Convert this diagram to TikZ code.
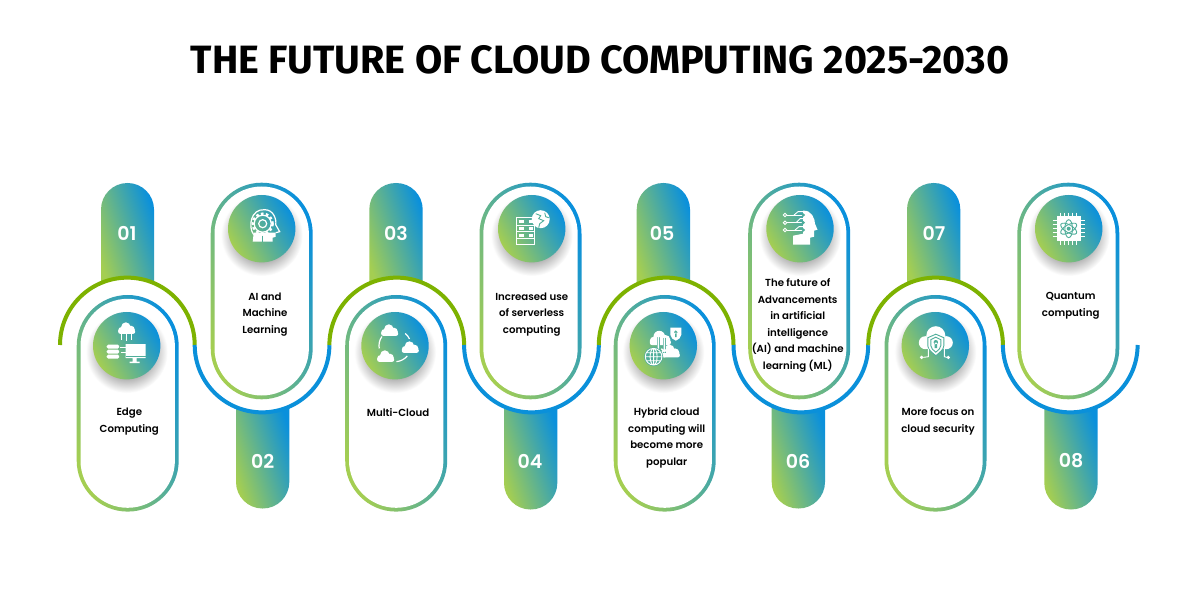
\documentclass[tikz,border=0pt]{standalone}
\usepackage{fontspec}
\setmainfont{Poppins}
\newfontfamily\bodyfont{Poppins SemiBold}
\newfontfamily\titlefont{Fira Sans Bold}
\definecolor{gradblue}{HTML}{0A90DC}
\definecolor{gradgreen}{HTML}{A4CE52}
\definecolor{arcgreen}{HTML}{7DB200}
\definecolor{arcblue}{HTML}{0A90DA}
\definecolor{icontint}{HTML}{4FAE9A}
\tikzset{
	tabshade/.style={shade,top color=gradblue,bottom color=gradgreen,shading angle=-72},
	greenarc/.style={draw=arcgreen,line width=4pt,fill=white},
	bluearc/.style={draw=arcblue,line width=4pt,fill=white},
	pillouter/.style={shape=rectangle,minimum width=102pt,minimum height=216.6pt,inner sep=0pt,rounded corners=51pt,
		shade,top color=gradblue,bottom color=gradgreen,shading angle=-68},
	pillinner/.style={shape=rectangle,fill=white,minimum width=94.4pt,minimum height=209pt,inner sep=0pt,rounded corners=47.2pt},
	ballglow/.style={shape=circle,minimum size=82pt,inner sep=0pt,shade,inner color=black!85,outer color=white},
	iconball/.style={shape=circle,minimum size=67.4pt,inner sep=0pt,shade,top color=gradblue,bottom color=gradgreen,shading angle=-60},
	numtext/.style={font=\bodyfont\fontsize{19}{19}\selectfont,text=white,inner sep=0pt},
	bodytext/.style={font=\bodyfont\fontsize{10.2}{16.5}\selectfont,align=center,inner sep=0pt,text=black},
	iconline/.style={draw=white,line width=0.9pt},
	tintline/.style={draw=icontint,line width=0.9pt},
	cloudicon/.pic={
		\fill[white] (-6,2) circle (4) (-1,-2) circle (5.5) (5,1) circle (4.5);
		\fill[white,rounded corners=2pt] (-10,1) rectangle (10,6);
	}
}
\begin{document}
\begin{tikzpicture}[x=1pt,y=-1pt]
	\fill[white] (0,0) rectangle (1201,601);
	\useasboundingbox (0,0) rectangle (1201,601);
	\node[font=\titlefont\fontsize{39.5}{40}\selectfont,inner sep=0pt] (title) at (600,60) {THE FUTURE OF CLOUD COMPUTING 2025-2030};
	% tabs
	\path[tabshade] (101,292) [rounded corners=26.5pt] -- (101,183) -- (154,183) [sharp corners] -- (154,292) -- cycle;
	\path[tabshade] (236,402) [rounded corners=26.5pt] -- (236,508.5) -- (289.3,508.5) [sharp corners] -- (289.3,402) -- cycle;
	\path[tabshade] (369.3,292) [rounded corners=26.5pt] -- (369.3,183) -- (422.7,183) [sharp corners] -- (422.7,292) -- cycle;
	\path[tabshade] (504,402) [rounded corners=26.5pt] -- (504,509.5) -- (557.3,509.5) [sharp corners] -- (557.3,402) -- cycle;
	\path[tabshade] (636.7,292) [rounded corners=26.5pt] -- (636.7,183) -- (690,183) [sharp corners] -- (690,292) -- cycle;
	\path[tabshade] (771.7,402) [rounded corners=26.5pt] -- (771.7,508.5) -- (825,508.5) [sharp corners] -- (825,402) -- cycle;
	\path[tabshade] (907,292) [rounded corners=26.5pt] -- (907,183) -- (960.3,183) [sharp corners] -- (960.3,292) -- cycle;
	\path[tabshade] (1044.3,402) [rounded corners=26.5pt] -- (1044.3,509.5) -- (1097.7,509.5) [sharp corners] -- (1097.7,402) -- cycle;
	% wave
	\draw[greenarc] (60,345) arc (180:360:67.35);
	\draw[bluearc] (194.7,345) arc (180:0:67.35);
	\draw[greenarc] (329.4,345) arc (180:360:67.35);
	\draw[bluearc] (464.1,345) arc (180:0:67.35);
	\draw[greenarc] (598.8,345) arc (180:360:67.35);
	\draw[bluearc] (733.5,345) arc (180:0:67.35);
	\draw[greenarc] (868.2,345) arc (180:360:67.35);
	\draw[bluearc] (1002.9,345) arc (180:0:67.35);
	% pills
	\node[pillouter] (pillA) at (127.7,403.3) {}; \node[pillinner] (innerA) at (pillA) {};
	\node[pillouter] (pillB) at (261.7,291) {}; \node[pillinner] (innerB) at (pillB) {};
	\node[pillouter] (pillC) at (396.2,403.3) {}; \node[pillinner] (innerC) at (pillC) {};
	\node[pillouter] (pillD) at (530.5,291) {}; \node[pillinner] (innerD) at (pillD) {};
	\node[pillouter] (pillE) at (664.7,403.3) {}; \node[pillinner] (innerE) at (pillE) {};
	\node[pillouter] (pillF) at (799.2,291) {}; \node[pillinner] (innerF) at (pillF) {};
	\node[pillouter] (pillG) at (935.5,403.3) {}; \node[pillinner] (innerG) at (pillG) {};
	\node[pillouter] (pillH) at (1068.3,291) {}; \node[pillinner] (innerH) at (pillH) {};
	% balls
	\node[ballglow] (glowA) at (126.7,352) {}; \node[iconball] (ballA) at (126.7,345.7) {};
	\node[ballglow] (glowB) at (261.7,235) {}; \node[iconball] (ballB) at (261.7,228.7) {};
	\node[ballglow] (glowC) at (395,352) {}; \node[iconball] (ballC) at (395,345.7) {};
	\node[ballglow] (glowD) at (531.7,235) {}; \node[iconball] (ballD) at (531.7,228.7) {};
	\node[ballglow] (glowE) at (663.3,352) {}; \node[iconball] (ballE) at (663.3,345.7) {};
	\node[ballglow] (glowF) at (800,235) {}; \node[iconball] (ballF) at (800,228.7) {};
	\node[ballglow] (glowG) at (935.3,352) {}; \node[iconball] (ballG) at (935.3,345.7) {};
	\node[ballglow] (glowH) at (1068.7,235) {}; \node[iconball] (ballH) at (1068.7,228.7) {};
	% numbers
	\node[numtext] (numA) at (127,233) {01};
	\node[numtext] (numB) at (262.7,461) {02};
	\node[numtext] (numC) at (396,233) {03};
	\node[numtext] (numD) at (530,461) {04};
	\node[numtext] (numE) at (662,233) {05};
	\node[numtext] (numF) at (798,461) {06};
	\node[numtext] (numG) at (934,233) {07};
	\node[numtext] (numH) at (1071,461) {08};
	% labels
	\node[bodytext] (textA) at (129.3,421.5) {Edge\\Computing};
	\node[bodytext] (textB) at (265,314.2) {AI and\\Machine\\Learning};
	\node[bodytext] (textC) at (398,412.5) {Multi-Cloud};
	\node[bodytext] (textD) at (531.7,314.2) {Increased use\\of serverless\\computing};
	\node[bodytext] (textE) at (666.7,437.8) {Hybrid cloud\\computing will\\become more\\popular};
	\node[bodytext] (textF) at (797.7,325.5) {The future of\\Advancements\\in artificial\\intelligence\\(AI) and machine\\learning (ML)};
	\node[bodytext] (textG) at (938,421.5) {More focus on\\cloud security};
	\node[bodytext] (textH) at (1070.7,305.9) {Quantum\\computing};
	% icon 1
	\begin{scope}[shift={(ballA)}]
		\pic[scale=0.85] at (0,-17) {cloudicon};
		\draw[iconline] (-5,-12) -- (-5,-6) (0,-12) -- (0,-5) (5,-12) -- (5,-6);
		\fill[white,rounded corners=1.5pt] (-20,-1) rectangle (-7.5,3) (-20,4) rectangle (-7.5,8) (-20,9) rectangle (-7.5,13);
		\fill[white] (-1,-1.5) rectangle (19,12.5) (6,12.5) rectangle (10,16) (3,16) rectangle (13,17.5);
		\draw[iconline,draw=icontint] (-1,10.5) -- (19,10.5);
		\draw[iconline] (-7,2) -- (2,2) (-6,7) -- (2,7);
	\end{scope}
	% icon 2
	\begin{scope}[shift={(ballB)}]
		\draw[draw=white,line width=2.4pt,dash pattern=on 2.6pt off 2.4pt] (1,-5) circle (10);
		\draw[iconline,line width=1.2pt] (1,-5) circle (8.5) (1,-5) circle (4);
		\draw[iconline,line width=1.2pt] (-8,6) .. controls (-14,-2) and (-11,-20) .. (3,-19) .. controls (12,-19) and (15,-9) .. (14,-4) -- (18,3) -- (14,4);
		\fill[white] (-8,4) -- (14,4) -- (14,8) -- (11,9) -- (11,13) -- (-9,13) -- cycle;
		\draw[tintline] (1,7) -- (1,13);
	\end{scope}
	% icon 3
	\begin{scope}[shift={(ballC)}]
		\draw[iconline,line width=1.2pt] (-50:16) arc (-50:-25:16) (40:16) arc (40:85:16) (170:16) arc (170:215:16);
		\pic[scale=0.85] at (-5.3,-15) {cloudicon};
		\pic[scale=0.85] at (15.3,2) {cloudicon};
		\pic[scale=0.85] at (-9.3,11) {cloudicon};
	\end{scope}
	% icon 4
	\begin{scope}[shift={(ballD)}]
		\draw[iconline] (-15.5,-11) rectangle (3,16);
		\draw[iconline] (-15.5,-3.5) -- (3,-3.5) (-15.5,3) -- (3,3) (-15.5,10) -- (3,10);
		\draw[draw=white,line width=3pt] (-13,-7.5) -- (-8,-7.5) (-3,-7.5) -- (1,-7.5) (-13,-0.2) -- (-8,-0.2) (-3,-0.2) -- (1,-0.2) (-13,6.5) -- (-8,6.5) (-3,6.5) -- (1,6.5);
		\fill[white] (9,-9.5) circle (9);
		\draw[tintline] (4,-15) -- (9,-13) -- (7,-10) -- (12,-8) -- (8,-5) -- (7,-1) (13,-16) -- (14,-12) -- (17,-11);
	\end{scope}
	% icon 5
	\begin{scope}[shift={(ballE)}]
		\pic[scale=1.05] at (-3,-7) {cloudicon};
		\pic[scale=0.95] at (7,6) {cloudicon};
		\fill[white] (7,-18) -- (18,-18) -- (18,-11) .. controls (18,-8) and (15,-6) .. (12.5,-5) .. controls (10,-6) and (7,-8) .. (7,-11) -- cycle;
		\fill[icontint] (12.5,-13.5) circle (1.8) (11.8,-13) rectangle (13.2,-8.5);
		\draw[draw=icontint,line width=3.6pt] (-5,10) -- (-5,-10);
		\draw[iconline,line width=1.4pt] (-5,8) -- (-5,-11) (-8,-8) -- (-5,-11) -- (-2,-8);
		\draw[draw=icontint,line width=3.6pt] (1,-8) -- (1,7);
		\draw[iconline,line width=1.4pt] (1,-8) -- (1,6) (-2,3) -- (1,6) -- (4,3);
		\fill[icontint] (-9.7,11) circle (9.5);
		\draw[iconline] (-9.7,11) circle (8.3) (-9.7,11) ellipse (3.5 and 8.3) (-18,11) -- (-1.4,11) (-17,7) -- (-2.4,7) (-17,15) -- (-2.4,15) (-9.7,2.7) -- (-9.7,19.3);
	\end{scope}
	% icon 6
	\begin{scope}[shift={(ballF)}]
		\fill[white] (-7,16) -- (-7,7) -- (3,5) -- (3,-18) .. controls (12,-19) and (15,-9) .. (15,-5) -- (17.5,1) -- (14,2) -- (14,8) -- (10,9) -- (10,16) -- cycle;
		\draw[iconline] (-13,-13.7) -- (3,-13.7) (-13,-6) -- (3,-6) (-13,1.3) -- (3,1.3);
		\draw[iconline] (-6,-13.7) -- (-2,-17) -- (3,-17) (-4,-6) -- (0,-10) -- (3,-10) (-5,1.3) -- (-1,-2) -- (3,-2);
		\draw[iconline] (-15,-13.7) circle (1.7) (-15,-6) circle (1.7) (-15,1.3) circle (1.7);
		\fill[icontint] (3.3,-13.7) circle (1.7) (3.3,-6) circle (1.7) (3.3,1.3) circle (1.7);
	\end{scope}
	% icon 7
	\begin{scope}[shift={(ballG)}]
		\fill[white] (-10,-3) circle (6.5) (0.5,-10) circle (9.5) (11,-3) circle (6.5);
		\fill[white] (-10,-9) rectangle (11,3.5);
		\draw[draw=icontint,line width=0.9pt,fill=white] (-7.5,-8) -- (0.5,-11.5) -- (8.5,-8) -- (8.5,0) .. controls (8.5,4) and (4,7) .. (0.5,10) .. controls (-3,7) and (-7.5,4) .. (-7.5,0) -- cycle;
		\draw[tintline] (-4.5,-6) -- (0.5,-8.5) -- (5.5,-6) -- (5.5,0) .. controls (5.5,2.5) and (3,4.5) .. (0.5,6.5) .. controls (-2,4.5) and (-4.5,2.5) .. (-4.5,0) -- cycle;
		\fill[icontint] (0.5,-3.5) circle (2.2) (-0.8,-3) rectangle (1.8,2.5);
		\draw[iconline] (-12,11.7) -- (-7,11) -- (-7,3) (11.5,11.7) -- (9,11) -- (9,3);
		\fill[white] (-13.7,11.7) circle (1.8) (13,11.7) circle (1.8);
	\end{scope}
	% icon 8
	\begin{scope}[shift={(ballH)}]
		\draw[iconline] (-8,-16) -- (-8,16) (-4,-16) -- (-4,16) (0,-16) -- (0,16) (4,-16) -- (4,16) (8,-16) -- (8,16);
		\draw[iconline] (-16,-8) -- (16,-8) (-16,-4) -- (16,-4) (-16,0) -- (16,0) (-16,4) -- (16,4) (-16,8) -- (16,8);
		\fill[white] (-12,-12.5) rectangle (12,12.5);
		\draw[tintline,rotate=90] (0,0) ellipse (9 and 3.8);
		\draw[tintline,rotate=30] (0,0) ellipse (9 and 3.8);
		\draw[tintline,rotate=-30] (0,0) ellipse (9 and 3.8);
		\fill[icontint] (0,0) circle (2);
	\end{scope}
\end{tikzpicture}
\end{document}
